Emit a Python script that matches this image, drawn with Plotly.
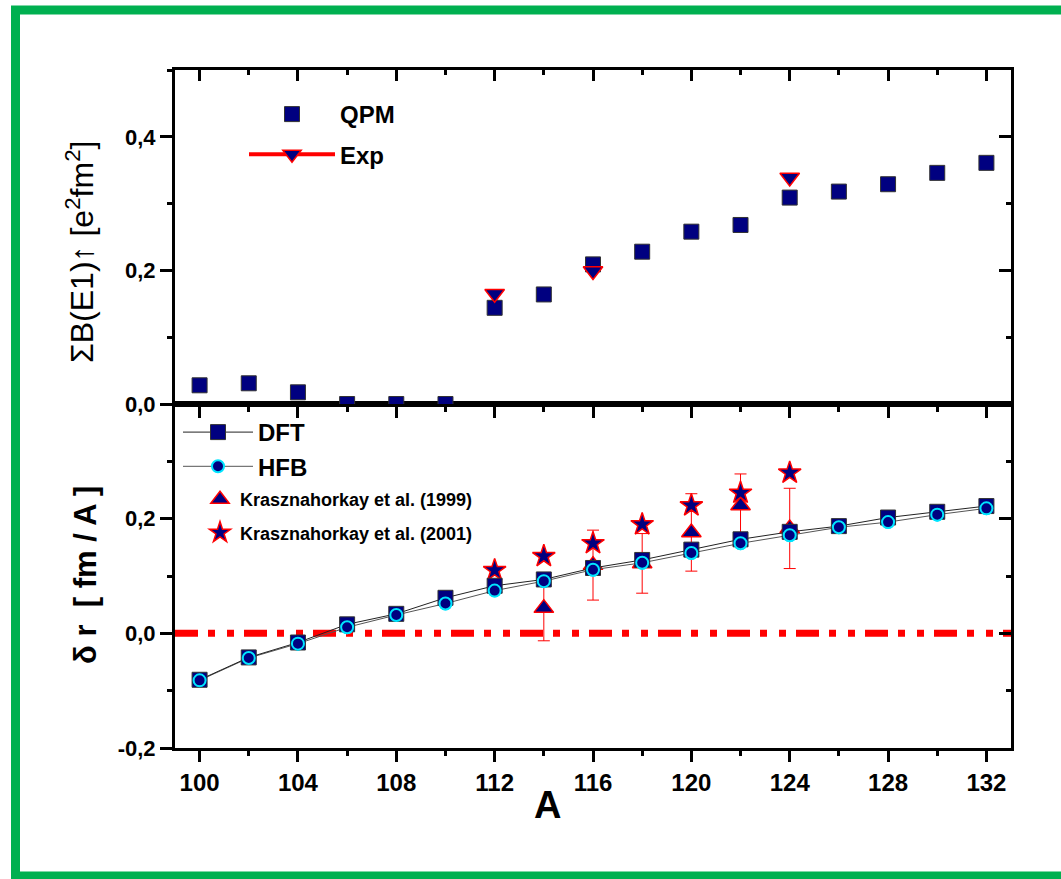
import plotly.graph_objects as go

# ---------------- data ----------------
A_top = [100, 102, 104, 106, 108, 110, 112, 114, 116, 118, 120, 122, 124, 126, 128, 130, 132]
qpm = [0.028, 0.031, 0.0175, 0.0, 0.0, 0.0, 0.144, 0.164, 0.209, 0.228, 0.258, 0.268,
       0.309, 0.318, 0.329, 0.346, 0.361]
exp_A = [112, 116, 124]
exp_B = [0.165, 0.199, 0.339]

A_bot = [100, 102, 104, 106, 108, 110, 112, 114, 116, 118, 120, 122, 124, 126, 128, 130, 132]
dft = [-0.081, -0.042, -0.016, 0.0157, 0.034, 0.062, 0.083, 0.094, 0.114, 0.128, 0.146,
       0.164, 0.177, 0.187, 0.202, 0.212, 0.222]
hfb = [-0.082, -0.043, -0.018, 0.0105, 0.032, 0.052, 0.0745, 0.091, 0.111, 0.123, 0.140,
       0.157, 0.171, 0.185, 0.194, 0.207, 0.218]
k99_A = [114, 116, 118, 120, 122, 124]
k99 = [0.044, 0.119, 0.122, 0.176, 0.223, 0.183]
k99_err = [0.057, 0.061, 0.052, 0.0675, 0.055, 0.07]
k01_A = [112, 114, 116, 118, 120, 122, 124]
k01 = [0.110, 0.1345, 0.157, 0.190, 0.223, 0.245, 0.280]

x_ticks = [100, 104, 108, 112, 116, 120, 124, 128, 132]
x_ticktext = ["100", "104", "108", "112", "116", "120", "124", "128", "132"]
top_yticks = [0.0, 0.2, 0.4]
top_yticktext = ["0,0", "0,2", "0,4"]
bot_yticks = [-0.2, 0.0, 0.2]
bot_yticktext = ["-0,2", "0,0", "0,2"]
zero_level = 0.0

# ---------------- layout geometry ----------------
W, H = 1061, 879
L, R, T, B = 175, 50, 70, 131
PW, PH = W - L - R, H - T - B
split_px = 404
split = (H - B - split_px) / PH


def px_x(px):
    return (px - L) / PW


def px_y(py):
    return (H - B - py) / PH


NAVY = "#000080"
RED = "#ff0000"
FONT = "Arial, Liberation Sans, sans-serif"


def gapped(xs, ys):
    gx, gy = [], []
    for i, (a, b) in enumerate(zip(xs, ys)):
        if i:
            gx.append(None)
            gy.append(None)
        gx.append(a)
        gy.append(b)
    return gx, gy


fig = go.Figure()

# ---- dummy traces to realise the mirrored inside-tick axes
for xa, ya in [("x3", "y"), ("x", "y3"), ("x4", "y2"), ("x2", "y4")]:
    fig.add_trace(go.Scatter(x=[None], y=[None], xaxis=xa, yaxis=ya, showlegend=False,
                             hoverinfo="skip", mode="markers"))

# ---- top panel
fig.add_trace(go.Scatter(
    x=A_top, y=qpm, xaxis="x2", yaxis="y2", mode="markers", name="QPM",
    legend="legend", legendgroup="qpm", legendrank=1,
    marker=dict(symbol="square", size=15, color=NAVY, line=dict(color="#333333", width=1))))
ex, ey = gapped(exp_A, exp_B)
fig.add_trace(go.Scatter(
    x=ex, y=ey, xaxis="x2", yaxis="y2", mode="lines+markers", name="Exp",
    legend="legend", legendgroup="exp", legendrank=2, connectgaps=False,
    line=dict(color=RED, width=4),
    marker=dict(symbol="triangle-down", size=17, color=NAVY, line=dict(color=RED, width=1.5))))

# ---- bottom panel
fig.add_trace(go.Scatter(
    x=k99_A, y=k99, xaxis="x", yaxis="y", mode="markers", name="Krasznahorkay et al. (1999)",
    legend="legend3", legendgroup="k99", legendrank=1,
    error_y=dict(type="data", array=k99_err, color=RED, thickness=1, width=6),
    marker=dict(symbol="triangle-up", size=17, color=NAVY, line=dict(color=RED, width=1.5))))
fig.add_trace(go.Scatter(
    x=k01_A, y=k01, xaxis="x", yaxis="y", mode="markers", name="Krasznahorkay et al. (2001)",
    legend="legend3", legendgroup="k01", legendrank=2,
    marker=dict(symbol="star", size=17, color=NAVY, line=dict(color=RED, width=1.5))))
fig.add_trace(go.Scatter(
    x=A_bot, y=hfb, xaxis="x", yaxis="y", mode="lines+markers", name="HFB",
    legend="legend2", legendgroup="hfb", legendrank=2,
    line=dict(color="#555555", width=1),
    marker=dict(symbol="circle", size=12, color=NAVY, line=dict(color="#00e5ff", width=2))))
fig.add_trace(go.Scatter(
    x=A_bot, y=dft, xaxis="x", yaxis="y", mode="lines+markers", name="DFT",
    legend="legend2", legendgroup="dft", legendrank=1,
    line=dict(color="#222222", width=1),
    marker=dict(symbol="square", size=15, color=NAVY, line=dict(color="#333333", width=1))))
fig.add_trace(go.Scatter(
    x=A_bot, y=hfb, xaxis="x", yaxis="y", mode="markers", showlegend=False, hoverinfo="skip",
    marker=dict(symbol="circle", size=12, color=NAVY, line=dict(color="#00e5ff", width=2))))

# ---------------- axes ----------------
tickfont_x = dict(family=FONT, size=24, color="black", weight="bold")
tickfont_y = dict(family=FONT, size=22, color="black", weight="bold")
xcommon = dict(range=[99, 133], showline=True, linewidth=3, linecolor="black",
               tickmode="array", tickvals=x_ticks, ticktext=x_ticktext,
               ticklen=11, tickwidth=2.5, tickcolor="black", showgrid=False, zeroline=False,
               minor=dict(tickmode="linear", tick0=100, dtick=2, ticklen=5, tickwidth=2.5,
                          tickcolor="black", showgrid=False))
top_y = dict(range=[0, 0.5], showline=True, linewidth=3, linecolor="black",
             tickmode="array", tickvals=top_yticks, ticktext=top_yticktext,
             ticklen=12, tickwidth=2.5, tickcolor="black", showgrid=False, zeroline=False,
             minor=dict(tickmode="linear", tick0=0, dtick=0.1, ticklen=5, tickwidth=2.5,
                        tickcolor="black", showgrid=False))
bot_y = dict(range=[-0.2, 0.4], showline=True, linewidth=3, linecolor="black",
             tickmode="array", tickvals=bot_yticks, ticktext=bot_yticktext,
             ticklen=12, tickwidth=2.5, tickcolor="black", showgrid=False, zeroline=False,
             minor=dict(tickmode="linear", tick0=-0.2, dtick=0.1, ticklen=5, tickwidth=2.5,
                        tickcolor="black", showgrid=False))


def ax(base, **kw):
    d = dict(base)
    d["minor"] = dict(base["minor"])
    for k, v in kw.items():
        if k.startswith("minor_"):
            d["minor"][k[6:]] = v
        else:
            d[k] = v
    return d


fig.update_layout(
    xaxis=ax(xcommon, anchor="y", domain=[0, 1], side="bottom", ticks="outside",
             minor_ticks="outside", tickfont=tickfont_x),
    yaxis=ax(bot_y, anchor="x", domain=[0, split], side="left", ticks="outside",
             minor_ticks="outside", tickfont=tickfont_y),
    xaxis2=ax(xcommon, anchor="y2", domain=[0, 1], side="bottom", ticks="outside",
              minor_ticks="outside", showticklabels=False, matches="x"),
    yaxis2=ax(top_y, anchor="x2", domain=[split, 1], side="left", ticks="outside",
              minor_ticks="outside", tickfont=tickfont_y),
    xaxis3=ax(xcommon, overlaying="x", anchor="y", side="top", ticks="inside",
              minor_ticks="inside", showticklabels=False),
    yaxis3=ax(bot_y, overlaying="y", anchor="x", side="right", ticks="inside",
              minor_ticks="inside", showticklabels=False),
    xaxis4=ax(xcommon, overlaying="x2", anchor="y2", side="top", ticks="inside",
              minor_ticks="inside", showticklabels=False),
    yaxis4=ax(top_y, overlaying="y2", anchor="x2", side="right", ticks="inside",
              minor_ticks="inside", showticklabels=False),
)

# ---------------- legends ----------------
fig.update_layout(
    legend=dict(x=px_x(244), y=px_y(92), xanchor="left", yanchor="top",
                font=dict(family=FONT, size=24, color="black", weight="bold"),
                bgcolor="rgba(0,0,0,0)", itemwidth=86, traceorder="grouped",
                tracegroupgap=6),
    legend2=dict(x=px_x(178), y=px_y(410), xanchor="left", yanchor="top",
                 font=dict(family=FONT, size=24, color="black", weight="bold"),
                 bgcolor="rgba(0,0,0,0)", itemwidth=70, traceorder="grouped",
                 tracegroupgap=0),
    legend3=dict(x=px_x(200), y=px_y(481), xanchor="left", yanchor="top",
                 font=dict(family=FONT, size=18, color="black", weight="bold"),
                 bgcolor="rgba(0,0,0,0)", itemwidth=30, traceorder="grouped",
                 tracegroupgap=7),
)

# ---------------- reference line, titles, frame ----------------
fig.add_shape(type="line", xref="x domain", yref="y", x0=0, x1=1, y0=zero_level, y1=zero_level,
              line=dict(color=RED, width=7, dash="23px,10px,7px,12px,7px,10px"), layer="below")

fig.add_annotation(text="ΣB(E1)<b>↑</b> [e<sup>2</sup>fm<sup>2</sup>]", xref="paper", yref="paper",
                   x=px_x(80), y=px_y(252), xanchor="center", yanchor="middle",
                   textangle=-90, showarrow=False,
                   font=dict(family=FONT, size=32, color="black"))
fig.add_annotation(text="δ r  [ fm / A ]", xref="paper", yref="paper",
                   x=px_x(85), y=px_y(575), xanchor="center", yanchor="middle",
                   textangle=-90, showarrow=False,
                   font=dict(family=FONT, size=31, color="black", weight="bold"))
fig.add_annotation(text="A", xref="paper", yref="paper", x=px_x(547), y=px_y(805),
                   xanchor="center", yanchor="middle",
                   showarrow=False, font=dict(family=FONT, size=38, color="black", weight="bold"))

fig.add_shape(type="rect", xref="paper", yref="paper", x0=px_x(15.5), x1=px_x(1075),
              y0=px_y(876), y1=px_y(10), line=dict(color="#00b050", width=9), layer="above")

fig.update_layout(
    width=W, height=H, margin=dict(l=L, r=R, t=T, b=B, pad=0),
    paper_bgcolor="white", plot_bgcolor="white", showlegend=True,
    font=dict(family=FONT, color="black"),
)

fig.write_html("out.html", config={"displayModeBar": False},
               post_script="document.body.style.margin='0';document.body.style.overflow='hidden';")
